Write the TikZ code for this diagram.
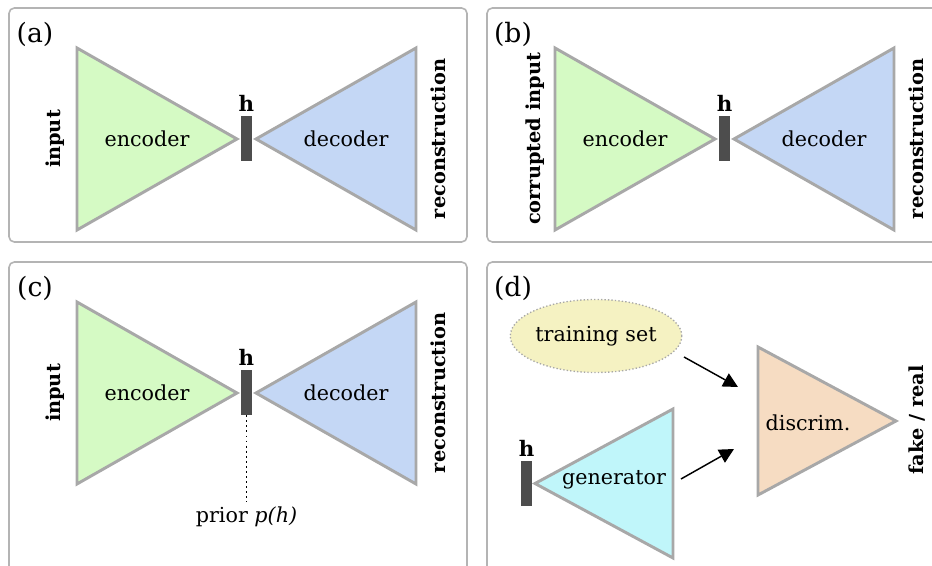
\documentclass[tikz,border=0pt]{standalone}
\usepackage{fontspec}
\setmainfont{DejaVu Serif}
\usepackage{tikz}
\usetikzlibrary{arrows.meta,shapes.geometric,positioning}

\definecolor{encfill}{HTML}{D5FAC4}
\definecolor{decfill}{HTML}{C4D7F5}
\definecolor{genfill}{HTML}{C0F6FA}
\definecolor{disfill}{HTML}{F6DCC2}
\definecolor{ellfill}{HTML}{F5F2C2}
\definecolor{trigray}{HTML}{A8A8A8}
\definecolor{panelgray}{HTML}{B4B4B4}
\definecolor{bardark}{HTML}{4D4D4D}

\begin{document}
\begin{tikzpicture}[x=0.75pt,y=-0.75pt,>={Triangle[length=11pt,width=11pt]},
                    node distance=0pt]
\tikzstyle{every node}=[font=\fontsize{15.5}{18}\selectfont]
\tikzstyle{panel}=[draw=panelgray,line width=1.2pt,rounded corners=4pt]
\tikzstyle{tri}=[draw=trigray,line width=2.2pt]
\tikzstyle{hbar}=[fill=bardark,minimum width=8.25pt,minimum height=33.75pt,inner sep=0pt]
\tikzstyle{side}=[font=\fontsize{14.5}{17}\selectfont\bfseries,rotate=90]
\tikzstyle{hlab}=[font=\fontsize{16}{19}\selectfont\bfseries]
\tikzstyle{tag}=[font=\fontsize{20}{24}\selectfont]

\useasboundingbox (0,0) rectangle (932,566);
\clip (0,0) rectangle (932,566);

% (a) autoencoder
\draw[panel] (9,8) rectangle (467,242);
\node[tag] (la) at (35,34) {(a)};
\draw[tri,fill=encfill] (77,48) -- (237,139) -- (77,230) -- cycle;
\draw[tri,fill=decfill] (416,48) -- (256,139) -- (416,230) -- cycle;
\node (enca) at (147,139) {encoder};
\node (deca) at (346,139) {decoder};
\node[hbar] (ha) at (246.5,138.5) {};
\node[hlab] [above=of ha] {h};
\node[side] (ina) at (55,139) {input};
\node[side] (reca) at (438,139) {reconstruction};

% (b) denoising
\begin{scope}[shift={(478,0)}]
\draw[panel] (9,8) rectangle (467,242);
\node[tag] (lb) at (35,34) {(b)};
\draw[tri,fill=encfill] (77,48) -- (237,139) -- (77,230) -- cycle;
\draw[tri,fill=decfill] (416,48) -- (256,139) -- (416,230) -- cycle;
\node (encb) at (147,139) {encoder};
\node (decb) at (346,139) {decoder};
\node[hbar] (hb) at (246.5,138.5) {};
\node[hlab] [above=of hb] {h};
\node[side] (inb) at (57,139) {corrupted input};
\node[side] (recb) at (438,139) {reconstruction};
\end{scope}

% (c) with prior
\begin{scope}[shift={(0,254)}]
\draw[panel] (9,8) rectangle (467,366);
\node[tag] (lc) at (35,34) {(c)};
\draw[tri,fill=encfill] (77,48) -- (237,139) -- (77,230) -- cycle;
\draw[tri,fill=decfill] (416,48) -- (256,139) -- (416,230) -- cycle;
\node (encc) at (147,139) {encoder};
\node (decc) at (346,139) {decoder};
\node[hbar] (hc) at (246.5,138.5) {};
\node[hlab] [above=of hc] {h};
\node[side] (inc) at (55,139) {input};
\node[side] (recc) at (438,139) {reconstruction};
\coordinate (pc) at (246.5,248);
\draw[line width=1.4pt,dash pattern=on 1.4pt off 2.4pt] (hc.south) -- (pc);
\node (priorc) [below=of pc] {prior \textit{p(h)}};
\end{scope}

% (d) adversarial
\begin{scope}[shift={(478,254)}]
\draw[panel] (9,8) rectangle (467,366);
\node[tag] (ld) at (35,34) {(d)};
\node[ellipse,draw=trigray,fill=ellfill,line width=1pt,dash pattern=on 1pt off 1.6pt,
      minimum width=120.75pt,minimum height=54.75pt,inner sep=0pt] (train) at (118,82) {training set};
\draw[tri,fill=disfill] (280,93) -- (418,167) -- (280,241) -- cycle;
\node (disc) at (330,169) {discrim.};
\draw[tri,fill=genfill] (195,155) -- (57,229.5) -- (195,304) -- cycle;
\node (gen) at (136,226) {generator};
\node[hbar] (hd) at (48.5,229.5) {};
\node[hlab] [above=of hd] {h};
\node[side] (fake) at (439,166) {fake / real};
\coordinate (t1) at (206,103);
\coordinate (d1) at (260,133);
\coordinate (g1) at (203,225);
\coordinate (d2) at (256,195);

\path[->,line width=1.1pt]
      (t1) edge (d1)
      (g1) edge (d2);
\end{scope}

\end{tikzpicture}
\end{document}
